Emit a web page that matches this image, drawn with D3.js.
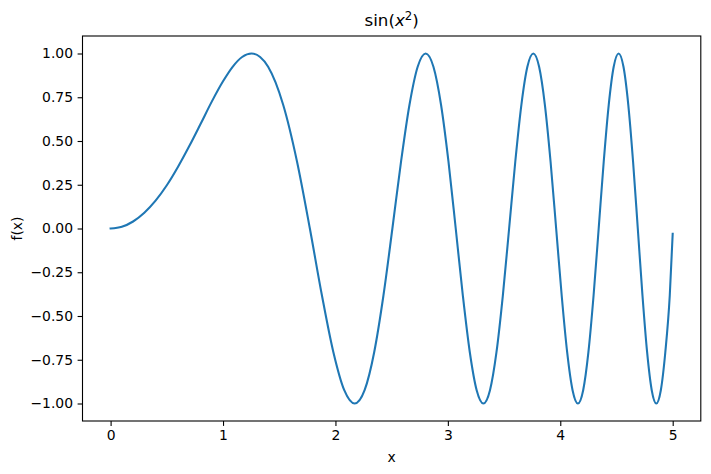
<!DOCTYPE html>
<html>
<head>
<meta charset="utf-8">
<script src="https://cdn.jsdelivr.net/npm/d3@7"></script>
<style>
  html, body { margin: 0; padding: 0; background: #fff; }
  svg { display: block; font-family: "DejaVu Sans", sans-serif; }
</style>
</head>
<body>
<svg id="chart" width="711" height="474"></svg>
<script>
// Values
const xValues = [0, 0.1, 0.2, 0.3, 0.4, 0.5, 0.6, 0.7, 0.8, 0.9, 1.0, 1.0854, 1.1700, 1.2533, 1.3300, 1.4012, 1.5350, 1.6580, 1.7725,
  1.8800, 1.9817, 2.0784, 2.1708, 2.2594, 2.3447, 2.4270, 2.5066, 2.5838, 2.6587, 2.7315, 2.8025,
  2.8717, 2.9393, 3.0053, 3.0700, 3.1333, 3.1953, 3.2562, 3.3160, 3.3747, 3.4324, 3.4891, 3.5449,
  3.5999, 3.6540, 3.7073, 3.7599, 3.8118, 3.8630, 3.9135, 3.9633, 4.0126, 4.0612, 4.1093, 4.1568,
  4.2037, 4.2502, 4.2962, 4.3416, 4.3866, 4.4311, 4.4752, 4.5189, 4.5622, 4.6050, 4.6474, 4.6895,
  4.7312, 4.7725, 4.8135, 4.8541, 4.8944, 4.9343, 4.9739, 5.0];
const yValues = [0, 0.010, 0.040, 0.090, 0.159, 0.247, 0.353, 0.471, 0.597, 0.725, 0.841, 0.924, 0.980, 1.0, 0.980, 0.924, 0.707, 0.383, 0,
  -0.383, -0.707, -0.924, -1.0, -0.924, -0.707, -0.383, 0, 0.383, 0.707, 0.924, 1.0,
  0.924, 0.707, 0.383, 0, -0.383, -0.707, -0.924, -1.0, -0.924, -0.707, -0.383, 0,
  0.383, 0.707, 0.924, 1.0, 0.924, 0.707, 0.383, 0, -0.383, -0.707, -0.924, -1.0,
  -0.924, -0.707, -0.383, 0, 0.383, 0.707, 0.924, 1.0, 0.924, 0.707, 0.383, 0,
  -0.383, -0.707, -0.924, -1.0, -0.924, -0.707, -0.383, -0.03];
const xTicks = [0, 1, 2, 3, 4, 5];
const yTicks = [-1.0, -0.75, -0.5, -0.25, 0, 0.25, 0.5, 0.75, 1.0];
const titleText = "sin(";
const xLabel = "x";
const yLabel = "f(x)";

const svg = d3.select("#chart");
const mLeft = 82.5, mRight = 700.8, mTop = 36, mBottom = 421;

const x = d3.scaleLinear().domain([-0.25, 5.25]).range([mLeft, mRight]);
const y = d3.scaleLinear().domain([-1.1, 1.1]).range([mBottom, mTop]);

const fmt = d => d3.format(".2f")(d).replace("-", "\u2212");

// x axis
const xAxis = svg.append("g").attr("transform", `translate(0,${mBottom})`)
  .call(d3.axisBottom(x).tickValues(xTicks).tickSize(4.9).tickPadding(4.2).tickFormat(d3.format("d")));
// y axis
const yAxis = svg.append("g").attr("transform", `translate(${mLeft},0)`)
  .call(d3.axisLeft(y).tickValues(yTicks).tickSize(4.9).tickPadding(4.6).tickFormat(fmt));

[xAxis, yAxis].forEach(g => {
  g.select(".domain").remove();
  g.selectAll(".tick line").attr("stroke", "#000").attr("stroke-width", 1.1);
  g.selectAll(".tick text").attr("fill", "#000").style("font-size", "13.9px")
    .style("font-family", "'DejaVu Sans', sans-serif");
});

// frame
svg.append("rect")
  .attr("x", mLeft).attr("y", mTop)
  .attr("width", mRight - mLeft).attr("height", mBottom - mTop)
  .attr("fill", "none").attr("stroke", "#000").attr("stroke-width", 1.1);

// line
const data = xValues.map((v, i) => [v, yValues[i]]);
svg.append("path")
  .datum(data)
  .attr("fill", "none")
  .attr("stroke", "#1f77b4")
  .attr("stroke-width", 2.08)
  .attr("stroke-linecap", "square")
  .attr("stroke-linejoin", "round")
  .attr("d", d3.line().x(d => x(d[0])).y(d => y(d[1])).curve(d3.curveMonotoneX));

// title
const t = svg.append("text")
  .attr("x", (mLeft + mRight) / 2).attr("y", 26)
  .attr("text-anchor", "middle")
  .style("font-size", "16.7px").attr("fill", "#000");
t.append("tspan").text(titleText);
t.append("tspan").style("font-style", "italic").text("x");
t.append("tspan").attr("dy", -6.5).style("font-size", "11.7px").text("2");
t.append("tspan").attr("dy", 6.5).text(")");

// axis labels
svg.append("text")
  .attr("x", (mLeft + mRight) / 2).attr("y", 462)
  .attr("text-anchor", "middle").style("font-size", "13.9px").attr("fill", "#000")
  .text(xLabel);
svg.append("text")
  .attr("transform", `translate(22,${(mTop + mBottom) / 2}) rotate(-90)`)
  .attr("text-anchor", "middle").style("font-size", "13.9px").attr("fill", "#000")
  .text(yLabel);
</script>
</body>
</html>
